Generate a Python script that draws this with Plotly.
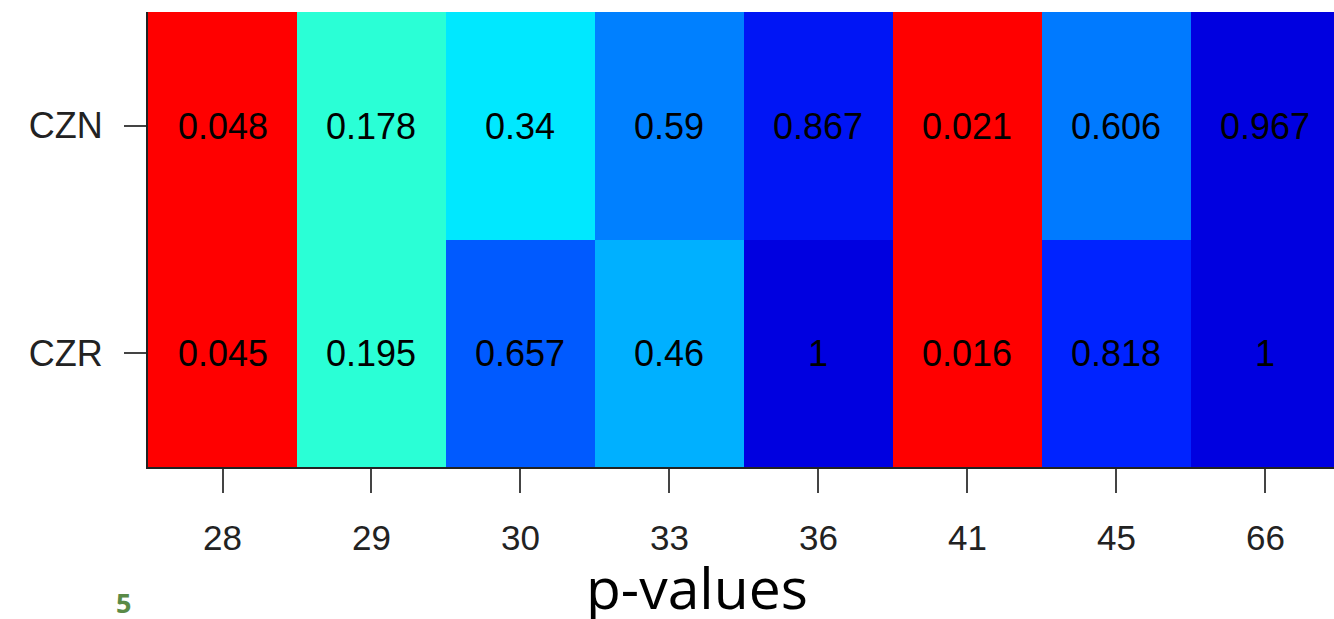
import plotly.graph_objects as go

# Sample columns and the two tests
sample_ids = ["28", "29", "30", "33", "36", "41", "45", "66"]
tests = ["CZR", "CZN"]

# p-values per test
p_czn = [0.048, 0.178, 0.34, 0.59, 0.867, 0.021, 0.606, 0.967]
p_czr = [0.045, 0.195, 0.657, 0.46, 1, 0.016, 0.818, 1]

z = [p_czr, p_czn]
labels = [[f"{v:g}" for v in row] for row in z]

# red for significant (< 0.05), then aquamarine -> cyan -> blue -> dark blue
colorscale = [
    [0.0, "#FF0000"], [0.05, "#FF0000"],
    [0.0501, "#2AFFD6"], [0.2, "#2AFFD6"],
    [0.34, "#00E8FF"], [0.46, "#00B0FF"],
    [0.59, "#0080FF"], [0.61, "#0078FF"],
    [0.66, "#0058FF"], [0.82, "#0022FF"],
    [0.87, "#0014F4"], [0.95, "#0000E0"], [1.0, "#0000E0"],
]

fig = go.Figure(
    go.Heatmap(
        x=sample_ids,
        y=tests,
        z=z,
        text=labels,
        texttemplate="%{text}",
        textfont=dict(family="Liberation Sans, Arial", size=36, color="#000000"),
        colorscale=colorscale,
        zmin=0,
        zmax=1,
        showscale=False,
    )
)

W, H = 1334, 619
L, T, B = 148, 12, 152

fig.update_layout(
    width=W,
    height=H,
    margin=dict(l=L, r=0, t=T, b=B),
    paper_bgcolor="white",
    plot_bgcolor="white",
    font=dict(family="Liberation Sans, Arial", size=30, color="#222222"),
    xaxis=dict(
        type="category",
        range=[-0.5, 7.46],
        showline=True,
        linecolor="#222222",
        linewidth=2,
        ticks="outside",
        ticklen=24,
        tickwidth=2,
        tickcolor="#444444",
        ticklabelstandoff=15,
        tickfont=dict(family="Liberation Sans, Arial", size=35, color="#222222"),
        showgrid=False,
        zeroline=False,
        fixedrange=True,
    ),
    yaxis=dict(
        type="category",
        range=[-0.5, 1.5],
        showline=True,
        linecolor="#222222",
        linewidth=2,
        ticks="outside",
        ticklen=22,
        tickwidth=2,
        tickcolor="#444444",
        ticklabelstandoff=14,
        tickfont=dict(family="Liberation Sans, Arial", size=36, color="#222222"),
        showgrid=False,
        zeroline=False,
        fixedrange=True,
    ),
    annotations=[
        dict(
            text="p-values",
            xref="paper", yref="paper",
            x=(697 - L) / (W - L), y=(467 - 587) / (467 - T),
            xanchor="center", yanchor="middle",
            showarrow=False,
            font=dict(family="Open Sans", size=57, color="#000000"),
        ),
        dict(
            text="<b>5</b>",
            xref="paper", yref="paper",
            x=(123 - L) / (W - L), y=(467 - 602) / (467 - T),
            xanchor="center", yanchor="middle",
            showarrow=False,
            font=dict(family="Open Sans", size=27, color="#5A8A47"),
        ),
    ],
)

fig.write_html("out.html")
